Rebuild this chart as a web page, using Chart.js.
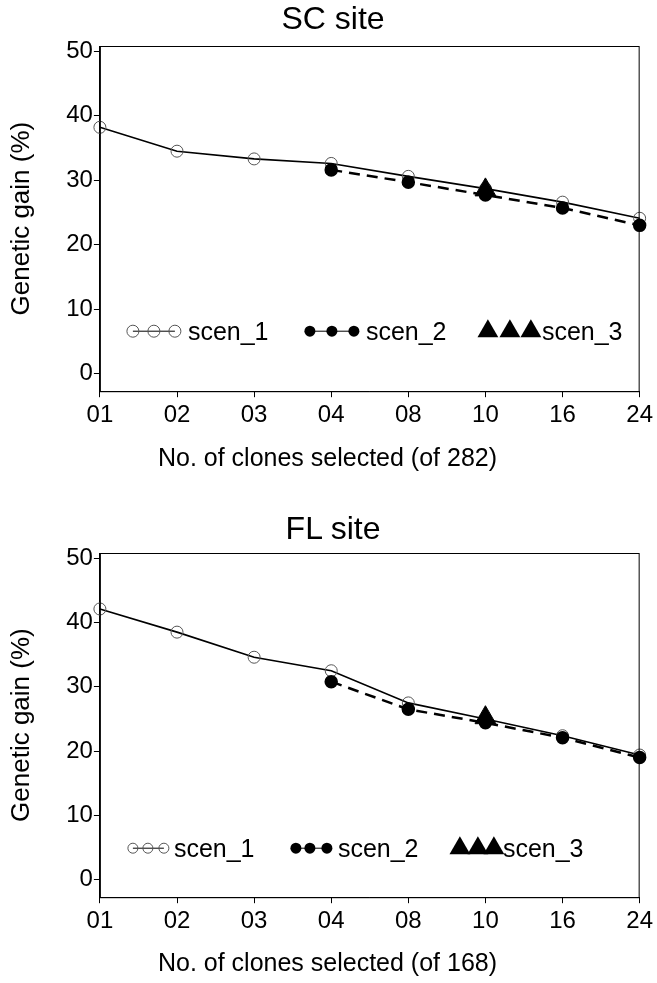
<!DOCTYPE html>
<html lang="en">

<head>
  <meta charset="UTF-8" />
  <title>Genetic gain by number of clones selected</title>
  <script src="https://cdn.jsdelivr.net/npm/chart.js"></script>
  <style>
    body { margin: 0; background: #fff; }
    .panel { position: relative; width: 657px; }
    .ttl, .xttl {
      position: absolute; left: 0; text-align: center; color: #000;
      font-family: "Liberation Sans", Arial, sans-serif;
    }
    .ttl { width: 666px; font-size: 32px; }
    .xttl { width: 655px; font-size: 25px; line-height: 30px; }
  </style>
</head>

<body>
  <div class="panel" style="height:490px">
    <div class="ttl" style="top:0px">SC site</div>
    <canvas id="scChart" width="657" height="490"></canvas>
    <div class="xttl" style="top:442px">No. of clones selected (of 282)</div>
  </div>
  <div class="panel" style="height:493px">
    <div class="ttl" style="top:20px">FL site</div>
    <canvas id="flChart" width="657" height="493"></canvas>
    <div class="xttl" style="top:457px">No. of clones selected (of 168)</div>
  </div>

  <script>
    /* data */
    const clones = ["01", "02", "03", "04", "08", "10", "16", "24"];
    const yTicks = [0, 10, 20, 30, 40, 50];

    const scScen1 = [38.2, 34.5, 33.3, 32.6, 30.6, 28.7, 26.6, 24.1];
    const scScen2 = [null, null, null, 31.6, 29.7, 27.7, 25.7, 23.0];
    const scScen3 = [null, null, null, null, null, 28.5, null, null];

    const flScen1 = [42.1, 38.5, 34.6, 32.5, 27.5, 25.0, 22.4, 19.4];
    const flScen2 = [null, null, null, 30.8, 26.5, 24.4, 22.1, 19.0];
    const flScen3 = [null, null, null, null, null, 25.2, null, null];

    const FONT = "'Liberation Sans', Arial, sans-serif";

    // draws one legend marker
    function mark(ctx, kind, x, y, r) {
      ctx.beginPath();
      if (kind === "triangle") {
        ctx.moveTo(x, y - r);
        ctx.lineTo(x + r * 0.866, y + r / 2);
        ctx.lineTo(x - r * 0.866, y + r / 2);
        ctx.closePath();
        ctx.fillStyle = "#000";
        ctx.fill();
      } else {
        ctx.arc(x, y, r, 0, Math.PI * 2);
        if (kind === "open") {
          ctx.strokeStyle = "#555";
          ctx.lineWidth = 1;
          ctx.stroke();
        } else {
          ctx.fillStyle = "#000";
          ctx.fill();
        }
      }
    }

    /* frame round the plot area + the in-plot key */
    const boxAndKey = {
      id: "boxAndKey",
      afterDatasetsDraw(chart, args, opts) {
        const { ctx, chartArea: a } = chart;
        ctx.save();
        ctx.strokeStyle = "#000";
        ctx.lineWidth = 1;
        ctx.strokeRect(a.left + 0.5, a.top + 0.5, a.width - 1, a.height);

        const y = a.bottom - opts.lift;
        opts.items.forEach((it, i) => {
          const ds = chart.data.datasets[i];
          if (it.kind !== "triangle") {
            ctx.beginPath();
            ctx.strokeStyle = "#000";
            ctx.lineWidth = 1;
            ctx.moveTo(a.left + it.xs[0], y);
            ctx.lineTo(a.left + it.xs[it.xs.length - 1], y);
            ctx.stroke();
          }
          it.xs.forEach((x) => mark(ctx, it.kind, a.left + x, y, it.r));
          ctx.fillStyle = "#000";
          ctx.font = "25px " + FONT;
          ctx.textBaseline = "middle";
          ctx.fillText(ds.label, a.left + it.textX, y + 2);
        });
        ctx.restore();
      },
    };

    function makeChart(id, s1, s2, s3, pad, key) {
      const ctx = document.getElementById(id).getContext("2d");
      return new Chart(ctx, {
        type: "line",
        data: {
          labels: clones,
          datasets: [
            {
              label: "scen_1",
              data: s1,
              borderColor: "#000",
              borderWidth: 1.6,
              pointStyle: "circle",
              pointRadius: 6,
              pointBackgroundColor: "rgba(0,0,0,0)",
              pointBorderColor: "#555",
              pointBorderWidth: 1,
              order: 3,
            },
            {
              label: "scen_2",
              data: s2,
              borderColor: "#000",
              borderWidth: 2.5,
              borderDash: [11, 7],
              pointRadius: 5.5,
              pointBackgroundColor: "#000",
              pointBorderColor: "#000",
              order: 2,
            },
            {
              label: "scen_3",
              data: s3,
              showLine: false,
              pointStyle: "triangle",
              pointRadius: 12,
              pointBackgroundColor: "#000",
              pointBorderColor: "#000",
              order: 1,
            },
          ],
        },
        options: {
          responsive: false,
          animation: false,
          layout: { padding: pad },
          plugins: {
            legend: { display: false },
            tooltip: { enabled: false },
            boxAndKey: key,
          },
          scales: {
            x: {
              offset: false,
              grid: { drawOnChartArea: false, drawTicks: true, tickLength: 6, color: "#000" },
              border: { display: true, color: "#000" },
              ticks: { color: "#000", padding: 4, maxRotation: 0, font: { family: FONT, size: 24 } },
            },
            y: {
              min: -2.7,
              max: 50.8,
              afterBuildTicks: (scale) => {
                scale.ticks = yTicks.map((v) => ({ value: v }));
              },
              grid: { drawOnChartArea: false, drawTicks: true, tickLength: 6, color: "#000" },
              border: { display: true, color: "#000" },
              ticks: { color: "#000", padding: 1, font: { family: FONT, size: 24 } },
              title: {
                display: true, text: "Genetic gain (%)", color: "#000",
                font: { family: FONT, size: 26 }, padding: { top: 6, bottom: 28 },
              },
            },
          },
        },
        plugins: [boxAndKey],
      });
    }

    makeChart("scChart", scScen1, scScen2, scScen3,
      { top: 46, right: 6, bottom: 56, left: 0 },
      {
        lift: 60,
        items: [
          { kind: "open", r: 6, xs: [33, 54, 75], textX: 88 },
          { kind: "filled", r: 5.5, xs: [210, 232, 254], textX: 266 },
          { kind: "triangle", r: 12, xs: [388, 410, 431], textX: 442 },
        ],
      });

    makeChart("flChart", flScen1, flScen2, flScen3,
      { top: 63, right: 6, bottom: 43, left: 0 },
      {
        lift: 49,
        items: [
          { kind: "open", r: 5, xs: [33, 48, 64], textX: 74 },
          { kind: "filled", r: 5.5, xs: [196, 210, 227], textX: 238 },
          { kind: "triangle", r: 12, xs: [360, 378, 394], textX: 403 },
        ],
      });
  </script>
</body>

</html>
